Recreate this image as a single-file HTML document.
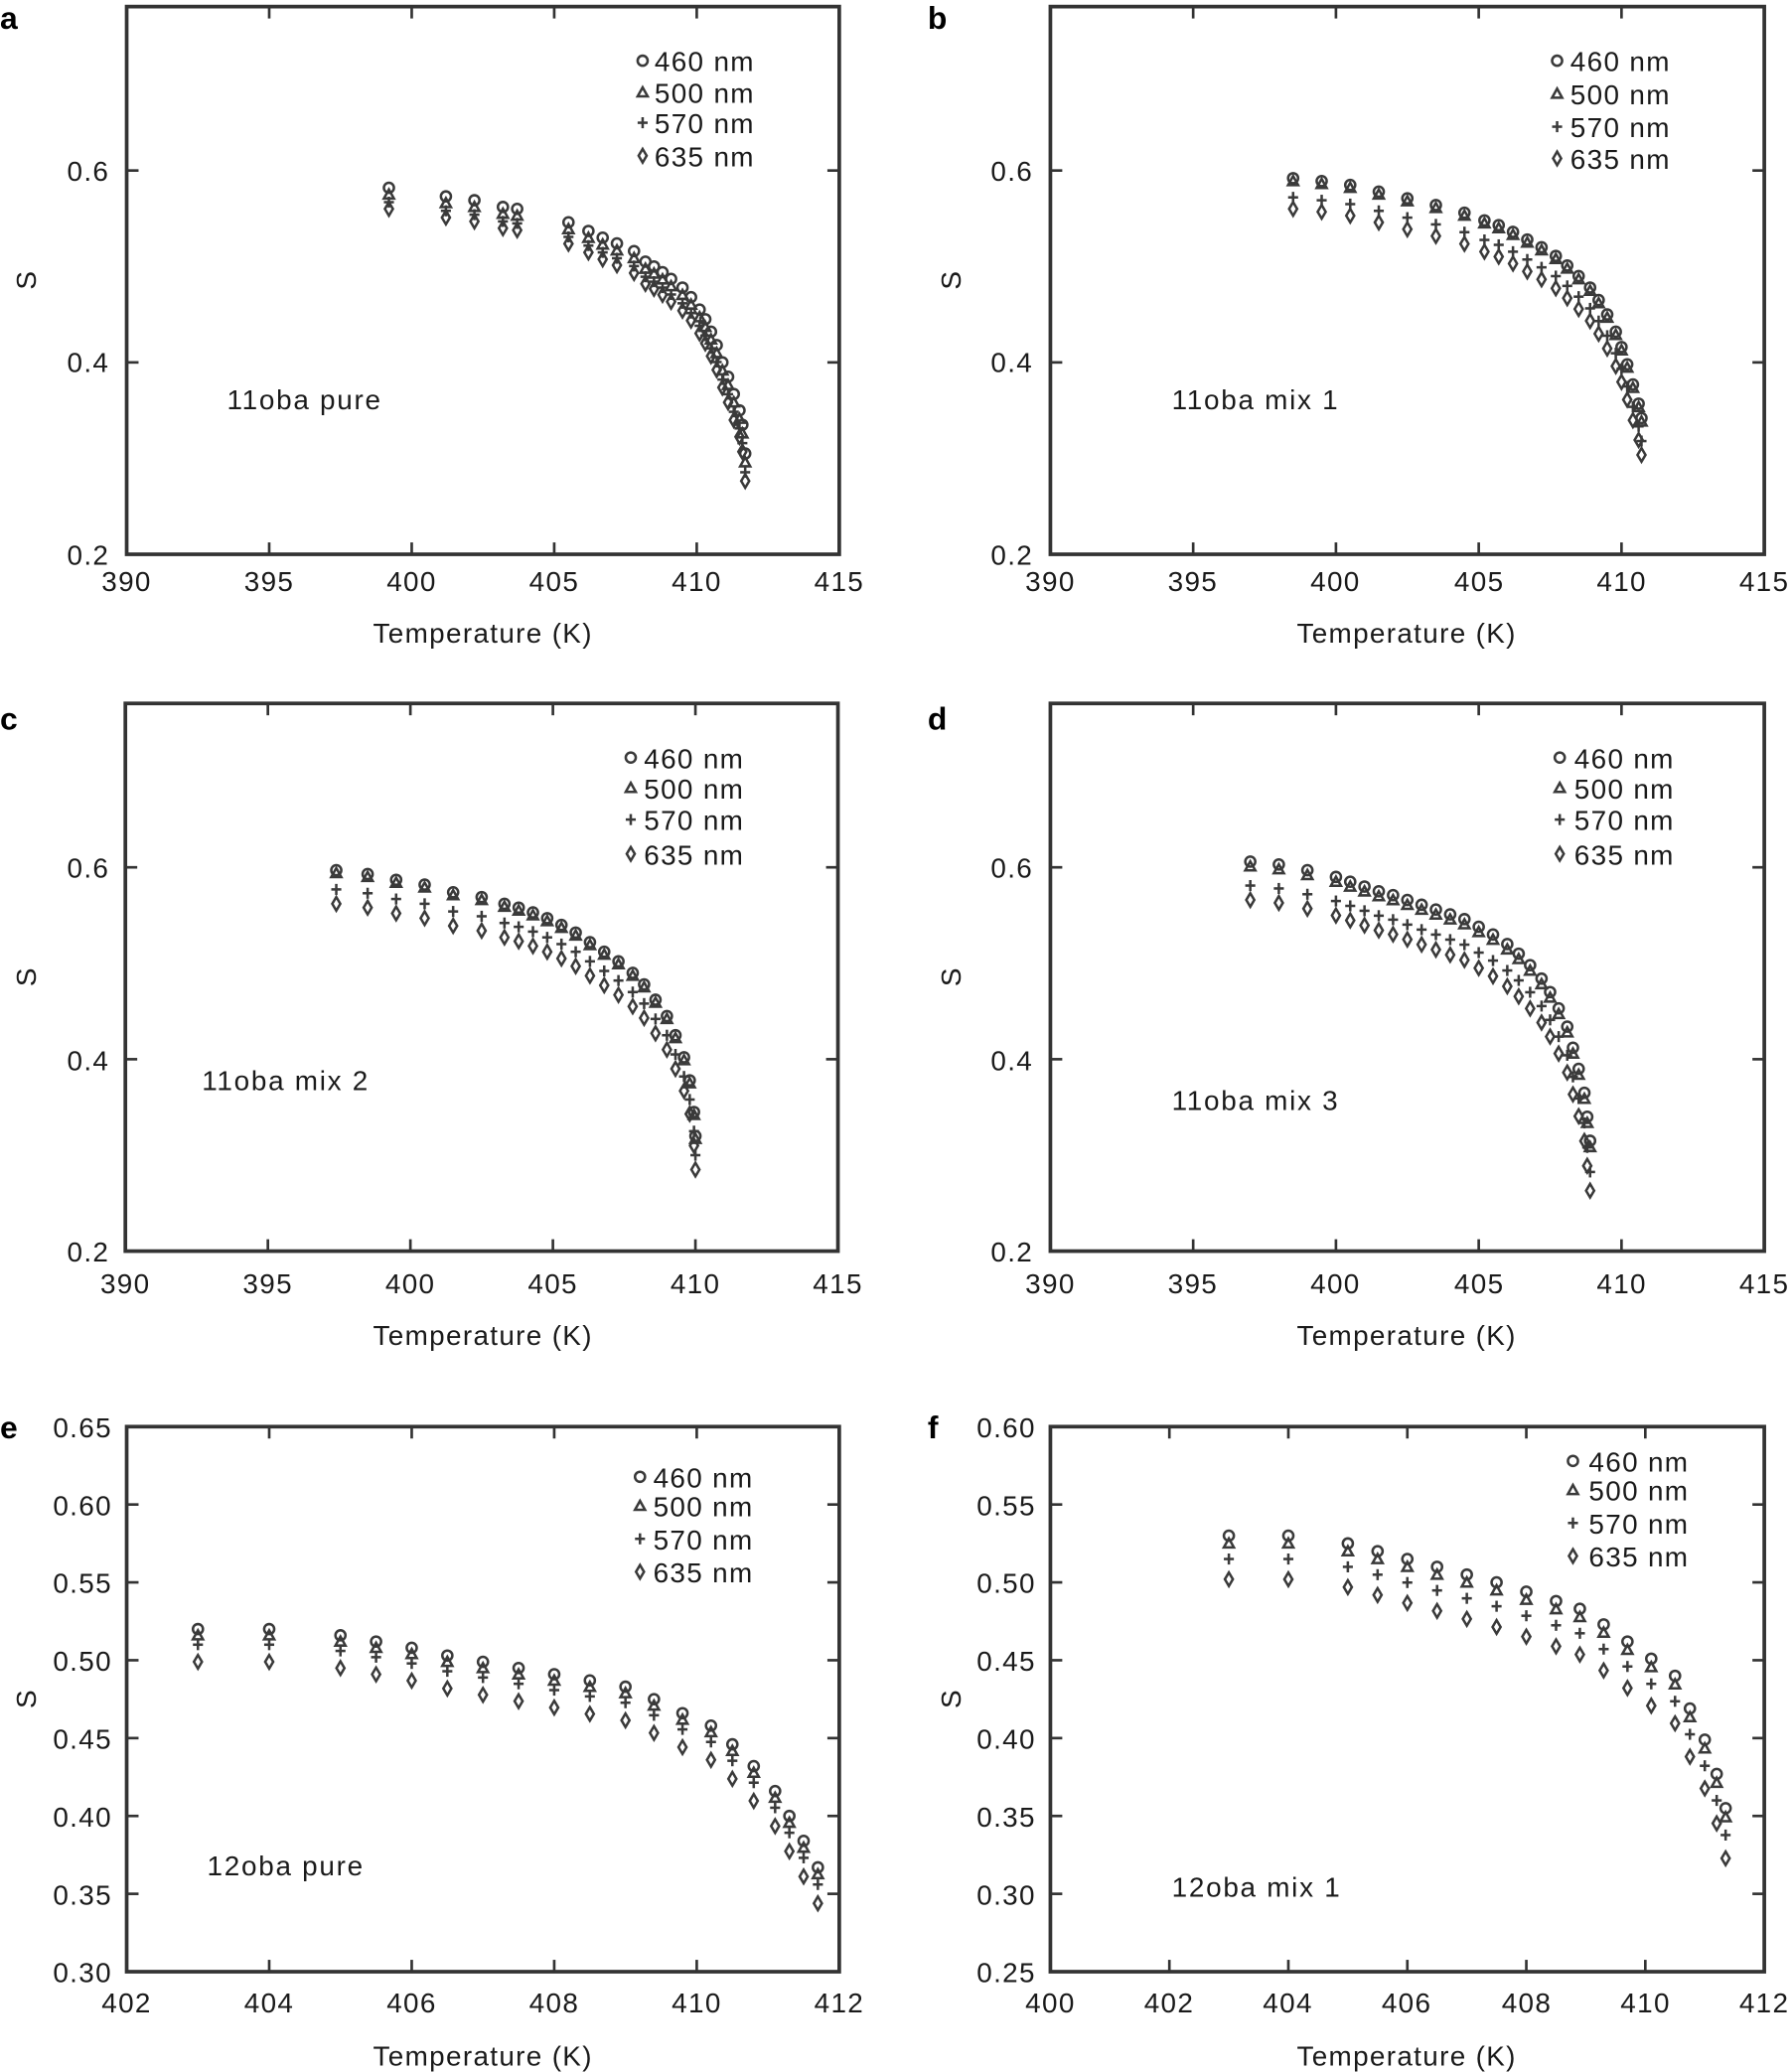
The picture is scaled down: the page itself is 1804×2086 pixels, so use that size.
<!DOCTYPE html>
<html><head><meta charset="utf-8">
<style>
html,body{margin:0;padding:0;background:#fff;}
svg{display:block;}
text{font-family:"Liberation Sans",Arial,sans-serif;fill:#1a1a1a;}
.t{font-size:21px;letter-spacing:1px;}
.l{font-size:21px;letter-spacing:1px;}
.a{font-size:21px;letter-spacing:1.3px;}
.p{font-size:24px;font-weight:bold;fill:#000;}
</style></head>
<body>
<svg id="s" width="1804" height="2086" viewBox="0 0 1358 1570" preserveAspectRatio="none" xmlns="http://www.w3.org/2000/svg">
<text class="p" x="0" y="22">a</text>
<text class="p" x="703" y="22">b</text>
<text class="p" x="0" y="553">c</text>
<text class="p" x="703" y="553">d</text>
<text class="p" x="0" y="1090">e</text>
<text class="p" x="703" y="1090">f</text>

<text class="t" x="366" y="487" text-anchor="middle">Temperature (K)</text>
<text class="t" x="1066" y="487" text-anchor="middle">Temperature (K)</text>
<text class="t" x="366" y="1019" text-anchor="middle">Temperature (K)</text>
<text class="t" x="1066" y="1019" text-anchor="middle">Temperature (K)</text>
<text class="t" x="366" y="1565" text-anchor="middle">Temperature (K)</text>
<text class="t" x="1066" y="1565" text-anchor="middle">Temperature (K)</text>

<text class="t" transform="translate(27,212) rotate(-90)" text-anchor="middle">S</text>
<text class="t" transform="translate(728,212) rotate(-90)" text-anchor="middle">S</text>
<text class="t" transform="translate(27,740) rotate(-90)" text-anchor="middle">S</text>
<text class="t" transform="translate(728,740) rotate(-90)" text-anchor="middle">S</text>
<text class="t" transform="translate(27,1287) rotate(-90)" text-anchor="middle">S</text>
<text class="t" transform="translate(728,1287) rotate(-90)" text-anchor="middle">S</text>

<text class="a" x="172" y="310">11oba pure</text>
<text class="a" x="888" y="310">11oba mix 1</text>
<text class="a" x="153" y="826">11oba mix 2</text>
<text class="a" x="888" y="841">11oba mix 3</text>
<text class="a" x="157" y="1421">12oba pure</text>
<text class="a" x="888" y="1437">12oba mix 1</text>

<g class="l">
<text x="496" y="54">460 nm</text><text x="496" y="78">500 nm</text><text x="496" y="101">570 nm</text><text x="496" y="126">635 nm</text>
<text x="1190" y="54">460 nm</text><text x="1190" y="79">500 nm</text><text x="1190" y="104">570 nm</text><text x="1190" y="128">635 nm</text>
<text x="488" y="582">460 nm</text><text x="488" y="605">500 nm</text><text x="488" y="629">570 nm</text><text x="488" y="655">635 nm</text>
<text x="1193" y="582">460 nm</text><text x="1193" y="605">500 nm</text><text x="1193" y="629">570 nm</text><text x="1193" y="655">635 nm</text>
<text x="495" y="1127">460 nm</text><text x="495" y="1149">500 nm</text><text x="495" y="1174">570 nm</text><text x="495" y="1199">635 nm</text>
<text x="1204" y="1115">460 nm</text><text x="1204" y="1137">500 nm</text><text x="1204" y="1162">570 nm</text><text x="1204" y="1187">635 nm</text>
</g>

<g class="t" text-anchor="middle">
<text x="96" y="448">390</text><text x="204" y="448">395</text><text x="312" y="448">400</text><text x="420" y="448">405</text><text x="528" y="448">410</text><text x="636" y="448">415</text>
<text x="796" y="448">390</text><text x="904" y="448">395</text><text x="1012" y="448">400</text><text x="1121" y="448">405</text><text x="1229" y="448">410</text><text x="1337" y="448">415</text>
<text x="95" y="980">390</text><text x="203" y="980">395</text><text x="311" y="980">400</text><text x="419" y="980">405</text><text x="527" y="980">410</text><text x="635" y="980">415</text>
<text x="796" y="980">390</text><text x="904" y="980">395</text><text x="1012" y="980">400</text><text x="1121" y="980">405</text><text x="1229" y="980">410</text><text x="1337" y="980">415</text>
<text x="96" y="1525">402</text><text x="204" y="1525">404</text><text x="312" y="1525">406</text><text x="420" y="1525">408</text><text x="528" y="1525">410</text><text x="636" y="1525">412</text>
<text x="796" y="1525">400</text><text x="886" y="1525">402</text><text x="976" y="1525">404</text><text x="1066" y="1525">406</text><text x="1157" y="1525">408</text><text x="1247" y="1525">410</text><text x="1337" y="1525">412</text>
</g>
<g class="t" text-anchor="end">
<text x="83" y="137">0.6</text><text x="83" y="282">0.4</text><text x="83" y="428">0.2</text>
<text x="783" y="137">0.6</text><text x="783" y="282">0.4</text><text x="783" y="428">0.2</text>
<text x="83" y="665">0.6</text><text x="83" y="811">0.4</text><text x="83" y="956">0.2</text>
<text x="783" y="665">0.6</text><text x="783" y="811">0.4</text><text x="783" y="956">0.2</text>
<text x="85" y="1089">0.65</text><text x="85" y="1148">0.60</text><text x="85" y="1207">0.55</text><text x="85" y="1266">0.50</text><text x="85" y="1325">0.45</text><text x="85" y="1384">0.40</text><text x="85" y="1443">0.35</text><text x="85" y="1502">0.30</text>
<text x="785" y="1089">0.60</text><text x="785" y="1148">0.55</text><text x="785" y="1207">0.50</text><text x="785" y="1266">0.45</text><text x="785" y="1325">0.40</text><text x="785" y="1384">0.35</text><text x="785" y="1443">0.30</text><text x="785" y="1502">0.25</text>
</g>
<g id="g"></g>
</svg>
<script>
var NS="http://www.w3.org/2000/svg",G=document.getElementById("g");
function el(n,a){var e=document.createElementNS(NS,n);for(var k in a)e.setAttribute(k,a[k]);G.appendChild(e);return e;}
var C="#3a3a3a",W=1.9;
function mark(t,x,y,r){r=r||3.8;
 if(t==0)el("circle",{cx:x,cy:y,r:r,fill:"none",stroke:C,"stroke-width":W});
 else if(t==1)el("polygon",{points:(x)+","+(y-r)+" "+(x+r)+","+(y+r*0.8)+" "+(x-r)+","+(y+r*0.8),fill:"none",stroke:C,"stroke-width":W});
 else if(t==2){el("line",{x1:x-r,y1:y,x2:x+r,y2:y,stroke:C,"stroke-width":W});el("line",{x1:x,y1:y-r*1.1,x2:x,y2:y+r*1.1,stroke:C,"stroke-width":W});}
 else el("polygon",{points:x+","+(y-r*1.35)+" "+(x+r*0.8)+","+y+" "+x+","+(y+r*1.35)+" "+(x-r*0.8)+","+y,fill:"none",stroke:C,"stroke-width":W});
}
function panel(p){
 var x0=p.x0,x1=p.x1,y0=p.y0,y1=p.y1;
 function X(t){return x0+(t-p.tmin)/(p.tmax-p.tmin)*(x1-x0);}
 function Y(s){return y1-(s-p.smin)/(p.smax-p.smin)*(y1-y0);}
 el("rect",{x:x0,y:y0,width:x1-x0,height:y1-y0,fill:"none",stroke:"#333","stroke-width":2.8});
 p.xt.forEach(function(t){var x=X(t);el("line",{x1:x,y1:y1,x2:x,y2:y1-9,stroke:"#333","stroke-width":2});el("line",{x1:x,y1:y0,x2:x,y2:y0+9,stroke:"#333","stroke-width":2});});
 p.yt.forEach(function(s){var y=Y(s);el("line",{x1:x0,y1:y,x2:x0+9,y2:y,stroke:"#333","stroke-width":2});el("line",{x1:x1,y1:y,x2:x1-9,y2:y,stroke:"#333","stroke-width":2});});
 var n=p.d.length;
 p.d.forEach(function(pt,i){var f=i/(n-1);
  for(var k=0;k<4;k++){var off=p.o[k]*(1+(p.g||0)*f*f);mark(k,X(pt[0]),Y(pt[1]-off));}
 });
 p.leg.forEach(function(y,k){mark(k,p.lx,y);});
}
panel({x0:96,x1:636,y0:5,y1:420,tmin:390,tmax:415,smin:0.2,smax:0.2+415/727,xt:[395,400,405,410],yt:[0.4,0.6],o:[0,.007,.015,.022],g:0.3,lx:487,leg:[46,70,93,118],
d:[[399.2,.582],[401.2,.573],[402.2,.569],[403.2,.562],[403.7,.560],[405.5,.546],[406.2,.537],[406.7,.530],[407.2,.524],[407.8,.516],[408.2,.505],[408.5,.500],[408.8,.494],[409.1,.487],[409.5,.478],[409.8,.468],[410.1,.455],[410.3,.445],[410.5,.432],[410.7,.418],[410.9,.400],[411.1,.385],[411.3,.367],[411.5,.350],[411.6,.335],[411.7,.305]]});
panel({x0:796,x1:1337,y0:5,y1:420,tmin:390,tmax:415,smin:0.2,smax:0.2+415/727,xt:[395,400,405,410],yt:[0.4,0.6],o:[0,.003,.02,.032],g:0.2,lx:1180,leg:[46,71,96,120],
d:[[398.5,.592],[399.5,.589],[400.5,.585],[401.5,.578],[402.5,.571],[403.5,.564],[404.5,.556],[405.2,.548],[405.7,.543],[406.2,.536],[406.7,.528],[407.2,.520],[407.7,.511],[408.1,.501],[408.5,.490],[408.9,.478],[409.2,.465],[409.5,.450],[409.8,.432],[410.0,.416],[410.2,.398],[410.4,.377],[410.6,.357],[410.7,.342]]});
panel({x0:95,x1:635,y0:533,y1:948,tmin:390,tmax:415,smin:0.2,smax:0.2+415/727,xt:[395,400,405,410],yt:[0.4,0.6],o:[0,.003,.02,.035],lx:478,leg:[574,597,621,647],
d:[[397.4,.597],[398.5,.593],[399.5,.587],[400.5,.582],[401.5,.574],[402.5,.569],[403.3,.562],[403.8,.558],[404.3,.553],[404.8,.547],[405.3,.540],[405.8,.532],[406.3,.522],[406.8,.512],[407.3,.502],[407.8,.490],[408.2,.478],[408.6,.462],[409.0,.445],[409.3,.425],[409.6,.402],[409.8,.378],[409.95,.345],[410.0,.320]]});
panel({x0:796,x1:1337,y0:533,y1:948,tmin:390,tmax:415,smin:0.2,smax:0.2+415/727,xt:[395,400,405,410],yt:[0.4,0.6],o:[0,.005,.025,.04],g:0.3,lx:1182,leg:[574,597,621,647],
d:[[397,.606],[398,.603],[399,.597],[400,.590],[400.5,.585],[401,.580],[401.5,.575],[402,.571],[402.5,.566],[403,.561],[403.5,.556],[404,.551],[404.5,.546],[405,.538],[405.5,.530],[406,.520],[406.4,.510],[406.8,.498],[407.2,.484],[407.5,.470],[407.8,.453],[408.1,.434],[408.3,.412],[408.5,.390],[408.7,.365],[408.8,.340],[408.9,.315]]});
panel({x0:96,x1:636,y0:1081,y1:1494,tmin:402,tmax:412,smin:0.30,smax:0.65,xt:[404,406,408,410],yt:[.35,.4,.45,.5,.55,.6],o:[0,.004,.010,.021],g:0.1,lx:485,leg:[1119,1141,1166,1191],
d:[[403,.520],[404,.520],[405,.516],[405.5,.512],[406,.508],[406.5,.503],[407,.499],[407.5,.495],[408,.491],[408.5,.487],[409,.483],[409.4,.475],[409.8,.466],[410.2,.458],[410.5,.446],[410.8,.432],[411.1,.416],[411.3,.400],[411.5,.384],[411.7,.367]]});
panel({x0:796,x1:1337,y0:1081,y1:1494,tmin:400,tmax:412,smin:0.25,smax:0.60,xt:[402,404,406,408,410],yt:[.3,.35,.4,.45,.5,.55],o:[0,.005,.015,.028],g:0.15,lx:1192,leg:[1107,1129,1154,1179],
d:[[403,.530],[404,.530],[405,.525],[405.5,.520],[406,.515],[406.5,.510],[407,.505],[407.5,.500],[408,.494],[408.5,.488],[408.9,.483],[409.3,.473],[409.7,.462],[410.1,.451],[410.5,.440],[410.75,.419],[411.0,.399],[411.2,.377],[411.35,.355]]});
</script>
</body></html>
